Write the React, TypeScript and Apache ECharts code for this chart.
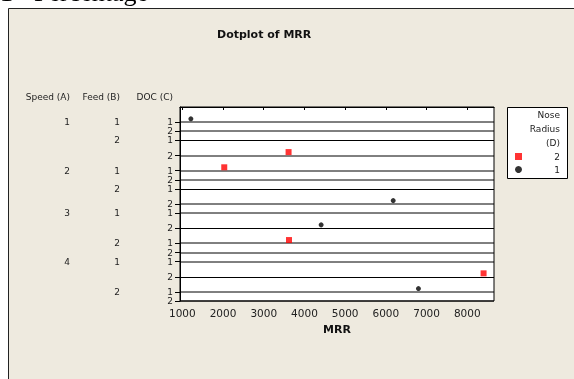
import React, { useEffect, useRef } from "react";
import * as echarts from "echarts";

// ---- data (one entry per run) ----
const speedA = [1, 1, 2, 2, 3, 3, 4, 4];
const feedB = [1, 2, 1, 2, 1, 2, 1, 2];
const docC = [1, 2, 1, 2, 2, 1, 2, 1];
const noseD = [1, 2, 2, 1, 1, 2, 2, 1];
const mrrValues = [1210, 3610, 2030, 6180, 4410, 3620, 8400, 6800];

const speedLevels = [1, 2, 3, 4];
const feedLevels = [1, 2];
const docLevels = [1, 2];
const noseLevels = [2, 1]; // legend order
const xTickValues = [1000, 2000, 3000, 4000, 5000, 6000, 7000, 8000];
const xMin = 943;
const xMax = 8656;

// ---- layout constants ----
const FONT = "DejaVu Sans";
const GRID = { left: 180, top: 107, width: 314, height: 194 };
const DOT_ROW = 15.2;
const EMPTY_ROW = 9.05;
const DOT_LIFT = 3.4;
const darkRows = [2, 6, 9, 13];

type Row = { s: number; f: number; d: number; base: number; hasDot: boolean };

function buildRows(): Row[] {
  const rows: Row[] = [];
  let acc = 0;
  for (const s of speedLevels)
    for (const f of feedLevels)
      for (const d of docLevels) {
        const hasDot = speedA.some((v, i) => v === s && feedB[i] === f && docC[i] === d);
        acc += hasDot ? DOT_ROW : EMPTY_ROW;
        rows.push({ s, f, d, base: acc, hasDot });
      }
  return rows;
}

export default function App() {
  const ref = useRef<HTMLDivElement>(null);
  useEffect(() => {
    if (!ref.current) return;
    const chart = echarts.init(ref.current, undefined, { renderer: "svg" });
    const rows = buildRows();
    const yMax = rows[rows.length - 1].base;
    const key = (v: number) => v.toFixed(2);

    const docMap = new Map<string, string>();
    rows.forEach((r) => docMap.set(key(r.base), String(r.d)));
    const feedRows = rows.filter((r) => r.d === docLevels[0]);
    const feedMap = new Map<string, string>();
    feedRows.forEach((r) => feedMap.set(key(r.base), String(r.f)));
    const speedRows = rows.filter((r) => r.d === docLevels[0] && r.f === feedLevels[0]);
    const speedMap = new Map<string, string>();
    speedRows.forEach((r) => speedMap.set(key(r.base), String(r.s)));

    const rowBase = (i: number) =>
      rows.find((r) => r.s === speedA[i] && r.f === feedB[i] && r.d === docC[i])!.base;

    const seriesFor = (n: number) =>
      mrrValues
        .map((v, i) => ({ v, i }))
        .filter(({ i }) => noseD[i] === n)
        .map(({ v, i }) => [v, rowBase(i) - DOT_LIFT]);

    const labelStyle = { fontFamily: FONT, fontSize: 9, color: "#222" };
    const hiddenAxisBase = {
      type: "value",
      inverse: true,
      min: 0,
      max: yMax,
      position: "left",
      axisLine: { show: false },
      axisTick: { show: false },
      splitLine: { show: false },
    };

    chart.setOption({
      animation: false,
      title: {
        text: "Dotplot of MRR",
        left: 217,
        top: 29,
        padding: 0,
        textStyle: { fontFamily: FONT, fontSize: 11, fontWeight: "bold", color: "#111" },
      },
      grid: { ...GRID, show: true, backgroundColor: "#fff", borderColor: "#000", borderWidth: 1 },
      xAxis: {
        type: "value",
        min: xMin,
        max: xMax,
        name: "MRR",
        nameLocation: "middle",
        nameGap: 23,
        nameTextStyle: { fontFamily: FONT, fontSize: 11, fontWeight: "bold", color: "#111" },
        axisLine: { show: true, lineStyle: { color: "#000" } },
        axisTick: { show: true, length: 3, customValues: xTickValues, lineStyle: { color: "#000" } },
        axisLabel: {
          customValues: xTickValues,
          formatter: (v: number) => String(v),
          fontFamily: FONT,
          fontSize: 10.5,
          color: "#222",
          margin: 6,
        },
        splitLine: { show: false },
      },
      yAxis: [
        {
          type: "value",
          inverse: true,
          min: 0,
          max: yMax,
          axisLine: { show: true, lineStyle: { color: "#000" } },
          axisTick: {
            show: true,
            length: 5,
            customValues: rows.map((r) => r.base),
            lineStyle: { color: "#000" },
          },
          axisLabel: {
            ...labelStyle,
            margin: 7,
            customValues: rows.map((r) => r.base),
            formatter: (v: number) => docMap.get(key(v)) ?? "",
          },
          splitLine: { show: false },
        },
        {
          ...hiddenAxisBase,
          offset: 60,
          axisLabel: {
            ...labelStyle,
            margin: 0,
            customValues: feedRows.map((r) => r.base),
            formatter: (v: number) => feedMap.get(key(v)) ?? "",
          },
        },
        {
          ...hiddenAxisBase,
          offset: 110,
          axisLabel: {
            ...labelStyle,
            margin: 0,
            customValues: speedRows.map((r) => r.base),
            formatter: (v: number) => speedMap.get(key(v)) ?? "",
          },
        },
      ],
      legend: {
        data: noseLevels.map(String),
        orient: "vertical",
        left: 515,
        top: 152,
        padding: 0,
        itemWidth: 7,
        itemHeight: 7,
        itemGap: 4,
        formatter: (name: string) => `{r|${name}}`,
        textStyle: {
          fontFamily: FONT,
          fontSize: 9,
          color: "#222",
          rich: { r: { width: 33, align: "right", fontFamily: FONT, fontSize: 9, color: "#222" } },
        },
      },
      graphic: [
        {
          type: "rect",
          z: -100,
          shape: { x: 8.5, y: 8.5, width: 700, height: 500 },
          style: { fill: "#EEEADF", stroke: "#222", lineWidth: 1 },
        },
        {
          type: "text",
          x: 0,
          y: 5,
          style: { text: "1", fontFamily: "Liberation Serif", fontSize: 26, fill: "#000", verticalAlign: "bottom" },
        },
        {
          type: "text",
          x: 34,
          y: 5,
          style: { text: "Percentage", fontFamily: "Liberation Serif", fontSize: 26, fill: "#000", verticalAlign: "bottom" },
        },
        {
          type: "rect",
          z: 1,
          shape: { x: 507.5, y: 107.5, width: 60, height: 71 },
          style: { fill: "#fff", stroke: "#000", lineWidth: 1 },
        },
        ...["Nose", "Radius", "(D)"].map((t, i) => ({
          type: "text",
          z: 2,
          x: 560,
          y: 114.7 + i * 14,
          style: { text: t, fontFamily: FONT, fontSize: 9, fill: "#222", align: "right", verticalAlign: "middle" },
        })),
        ...["Speed (A)", "Feed (B)", "DOC (C)"].map((t, i) => ({
          type: "text",
          x: [70, 120, 173][i],
          y: 96.7,
          style: { text: t, fontFamily: FONT, fontSize: 9, fill: "#222", align: "right", verticalAlign: "middle" },
        })),
      ],
      series: [
        {
          type: "custom",
          silent: true,
          z: 1,
          clip: false,
          data: rows.map((r, i) => [xMin, r.base, darkRows.includes(i) ? 1 : 0]),
          encode: { x: 0, y: 1 },
          renderItem: (params: any, api: any) => {
            const pt = api.coord([api.value(0), api.value(1)]);
            const cs = params.coordSys;
            const dark = api.value(2) === 1;
            const yy = dark ? Math.round(pt[1]) + 0.5 : Math.round(pt[1]);
            return {
              type: "line",
              shape: { x1: cs.x, y1: yy, x2: cs.x + cs.width, y2: yy },
              style: { stroke: "#000", lineWidth: 1 },
            };
          },
        },
        {
          name: "2",
          type: "scatter",
          symbol: "rect",
          symbolSize: 6,
          z: 3,
          itemStyle: { color: "#FF0000" },
          data: seriesFor(2),
        },
        {
          name: "1",
          type: "scatter",
          symbol: "circle",
          symbolSize: 5,
          z: 3,
          itemStyle: { color: "#000" },
          data: seriesFor(1),
        },
      ],
    });
    return () => chart.dispose();
  }, []);
  return <div ref={ref} style={{ position: "fixed", left: 0, top: 0, width: 574, height: 379 }} />;
}
